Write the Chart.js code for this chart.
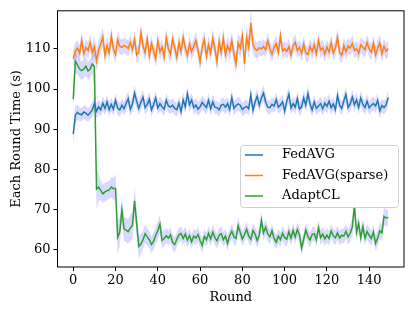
<!DOCTYPE html>
<html>
<head>
<meta charset="utf-8">
<script src="https://cdn.jsdelivr.net/npm/chart.js@4"></script>
<style>
  html, body { margin: 0; padding: 0; background: #fff; }
  #wrap { width: 415px; height: 311px; }
</style>
</head>
<body>
<div id="wrap"><canvas id="chart" width="415" height="311"></canvas></div>
<script>
// rounds on the x axis
const rounds = Array.from({ length: 150 }, (_, i) => i);

const xTicks = [0, 20, 40, 60, 80, 100, 120, 140];
const yTicks = [60, 70, 80, 90, 100, 110];

// mean round time per series
const fedavg = [
  88.8, 93.5, 94.2, 93.8, 93.6, 94.3, 94.0, 93.5, 94.1, 94.8,
  96.4, 94.5, 95.6, 94.8, 96.5, 95.2, 96.8, 94.9, 96.2, 95.0,
  97.2, 95.3, 94.8, 96.0, 95.1, 96.4, 97.6, 95.0, 96.3, 99.0,
  97.0, 95.2, 96.8, 98.0, 95.4, 96.2, 97.5, 94.8, 96.1, 97.8,
  95.3, 96.4, 95.6, 95.0, 97.2, 95.8, 95.5, 96.0, 95.2, 94.9,
  96.5, 94.4, 97.3, 95.6, 98.8, 96.1, 97.3, 95.4, 96.0, 95.0,
  95.6, 96.7, 96.0, 95.4, 97.2, 95.1, 96.8, 95.5, 95.4, 94.8,
  96.0, 96.2, 95.5, 96.4, 94.9, 97.9, 95.2, 95.9, 96.3, 96.0,
  94.9, 95.4, 95.7, 95.1, 98.6, 94.7, 96.8, 98.2, 96.0, 97.8,
  99.0, 96.8, 95.5, 95.4, 96.2, 95.8, 97.4, 95.5, 96.0, 96.8,
  94.5, 97.0, 98.7, 95.3, 96.4, 95.5, 97.6, 95.0, 95.6, 97.8,
  96.0, 98.9, 96.3, 94.8, 96.8, 95.2, 95.8, 96.4, 95.1, 96.5,
  95.7, 97.0, 95.4, 96.3, 94.9, 98.4, 96.0, 95.2, 97.1, 98.7,
  95.4, 96.3, 98.0, 96.1, 97.3, 95.5, 97.8, 96.2, 95.4, 97.0,
  95.3, 96.0, 96.4, 95.8, 97.2, 94.6, 95.9, 95.4, 96.1, 97.9
];
const fedavgSparse = [
  107.6, 109.5, 110.2, 108.9, 112.1, 108.8, 110.4, 109.6, 111.5, 109.2,
  110.6, 107.0, 109.8, 111.2, 113.0, 108.4, 110.8, 109.1, 113.2, 110.0,
  108.6, 112.3, 110.7, 110.4, 110.9, 110.6, 110.1, 111.6, 109.9, 112.4,
  108.5, 109.2, 114.0, 110.8, 109.1, 112.5, 108.3, 111.4, 109.5, 107.6,
  112.0, 109.3, 110.5, 108.0, 112.8, 110.0, 108.7, 112.4, 110.3, 107.9,
  111.6, 109.4, 112.9, 110.2, 108.4, 111.2, 109.3, 110.6, 112.1, 109.8,
  106.8, 110.5, 112.3, 108.2, 111.0, 109.0, 112.6, 110.1, 106.8, 111.8,
  109.2, 112.7, 108.6, 110.8, 109.4, 112.0, 108.8, 106.3, 111.5, 110.2,
  113.2, 106.3, 112.9, 110.4, 116.4, 111.2, 110.0, 109.6, 110.3, 110.0,
  110.6, 109.8, 112.0, 110.2, 108.7, 110.4, 111.3, 109.2, 113.2, 109.5,
  110.0, 109.4, 110.6, 108.5, 110.8, 111.7, 109.6, 110.4, 108.9, 111.2,
  109.0, 108.6, 110.6, 109.4, 111.0, 108.8, 112.1, 109.7, 110.3, 108.7,
  110.5, 109.2, 111.6, 109.0, 110.2, 112.9, 109.1, 108.4, 110.8, 109.3,
  110.7, 110.2, 111.4, 109.6, 110.1, 108.9, 111.0, 110.4, 109.8, 111.6,
  110.0, 109.2, 111.4, 108.5, 110.2, 111.5, 108.8, 110.6, 109.4, 110.1
];
const adaptcl = [
  97.5, 107.0, 106.0, 105.0, 104.6, 105.0, 105.7, 104.5, 105.0, 106.2,
  105.6, 75.1, 75.6, 74.8, 73.9, 74.4, 74.7, 74.9, 75.6, 75.2,
  75.3, 63.1, 64.4, 69.9, 65.2, 64.9, 64.5, 65.4, 66.0, 72.2,
  66.5, 60.8, 61.4, 62.5, 64.0, 63.2, 62.5, 61.3, 62.1, 63.6,
  64.8, 66.4, 62.3, 62.8, 63.5, 62.9, 63.7, 61.8, 61.3, 62.6,
  63.7, 64.0, 62.8, 63.9, 62.4, 63.5, 62.0, 63.4, 62.9, 63.8,
  62.3, 61.1, 63.3, 62.5, 64.1, 62.7, 64.4, 63.0, 62.2, 63.6,
  64.0, 62.5, 63.4, 61.6, 63.5, 64.6, 63.2, 62.8, 66.0, 64.3,
  62.7, 63.8, 65.1, 63.4, 62.6, 64.8, 63.9, 62.3, 63.6, 67.3,
  64.2, 65.6, 64.0, 63.2, 64.7, 62.8, 61.9, 63.4, 62.5, 64.1,
  63.0, 62.6, 64.5, 62.9, 64.8, 63.2, 65.0, 63.7, 60.4, 62.6,
  64.9, 63.3, 62.4, 63.8, 64.0, 62.5, 65.5, 63.0, 63.9, 62.7,
  63.6, 62.8, 64.7, 63.5, 63.0, 64.2, 62.9, 63.6, 63.4, 64.6,
  63.2, 64.1, 65.6, 71.0, 64.3, 66.5, 63.0, 65.8, 62.9, 64.5,
  63.6, 62.8, 64.4, 61.6, 62.9, 64.7, 64.2, 68.3, 67.9, 68.0
];

// half-width of the shaded band around each series
const fedavgSpread = [
  3.2, 2.3, 1.9, 1.7, 1.7, 1.7, 1.8, 1.7, 1.8, 1.9,
  2.1, 1.9, 1.8, 1.7, 1.8, 1.7, 1.8, 1.7, 1.7, 1.7,
  1.8, 1.7, 1.7, 1.7, 1.7, 1.8, 1.9, 1.7, 1.8, 2.0,
  1.8, 1.7, 1.8, 1.9, 1.7, 1.7, 1.8, 1.7, 1.7, 1.8,
  1.7, 1.7, 1.7, 1.7, 1.8, 1.7, 1.7, 1.7, 1.7, 1.7,
  1.7, 1.7, 1.8, 1.7, 2.0, 1.8, 1.8, 1.7, 1.7, 1.7,
  1.7, 1.7, 1.7, 1.7, 1.8, 1.7, 1.8, 1.7, 1.7, 1.7,
  1.7, 1.7, 1.7, 1.7, 1.7, 1.9, 1.7, 1.7, 1.7, 1.7,
  1.7, 1.7, 1.7, 1.7, 2.0, 1.8, 1.8, 1.9, 1.8, 1.9,
  2.0, 1.8, 1.7, 1.7, 1.7, 1.7, 1.8, 1.7, 1.7, 1.8,
  1.8, 1.8, 2.0, 1.7, 1.7, 1.7, 1.8, 1.7, 1.7, 1.9,
  1.7, 2.0, 1.8, 1.7, 1.8, 1.7, 1.7, 1.7, 1.7, 1.7,
  1.7, 1.8, 1.7, 1.7, 1.7, 1.9, 1.7, 1.7, 1.8, 2.0,
  1.7, 1.7, 1.9, 1.7, 1.8, 1.7, 1.9, 1.7, 1.7, 1.8,
  1.7, 1.7, 1.7, 1.7, 1.8, 1.8, 1.7, 1.7, 1.7, 1.9
];
const sparseSpread = [
  2.3, 2.1, 2.0, 2.0, 2.2, 2.0, 2.0, 2.0, 2.1, 2.0,
  2.3, 2.7, 2.5, 2.3, 2.4, 2.2, 2.1, 2.0, 2.3, 2.0,
  2.0, 2.2, 2.0, 1.9, 1.9, 1.9, 1.9, 2.0, 1.9, 2.1,
  2.1, 2.0, 2.3, 2.0, 2.0, 2.1, 2.1, 2.0, 2.0, 2.1,
  2.1, 2.0, 2.0, 2.1, 2.2, 2.0, 2.1, 2.1, 2.0, 2.1,
  2.1, 2.0, 2.2, 2.0, 2.1, 2.0, 2.0, 2.0, 2.1, 2.1,
  2.4, 2.2, 2.3, 2.2, 2.2, 2.2, 2.3, 2.3, 2.5, 2.4,
  2.3, 2.4, 2.4, 2.3, 2.3, 2.4, 2.5, 2.6, 2.5, 2.5,
  2.6, 2.8, 2.8, 2.8, 3.1, 2.5, 2.2, 2.0, 1.9, 1.9,
  1.9, 1.9, 2.0, 1.9, 2.0, 1.9, 2.0, 2.0, 2.2, 2.0,
  1.9, 1.9, 1.9, 2.0, 1.9, 2.0, 1.9, 1.9, 2.0, 2.0,
  2.0, 2.0, 1.9, 1.9, 2.0, 2.0, 2.1, 2.0, 1.9, 2.0,
  1.9, 1.9, 2.0, 2.0, 2.0, 2.2, 2.1, 2.0, 2.0, 2.0,
  1.9, 1.9, 2.0, 1.9, 1.9, 2.0, 2.0, 1.9, 1.9, 2.0,
  2.0, 2.0, 2.0, 2.1, 2.0, 2.0, 2.1, 2.0, 2.0, 2.0
];
const adaptSpread = [
  4.5, 3.0, 2.3, 2.3, 2.3, 2.3, 2.3, 2.3, 2.3, 2.3,
  5.5, 5.0, 3.5, 2.5, 2.3, 2.3, 2.3, 2.3, 2.5, 2.7,
  3.5, 4.5, 3.5, 3.3, 3.0, 3.0, 3.0, 3.3, 3.5, 3.5,
  3.5, 3.0, 2.5, 2.3, 2.3, 2.1, 2.1, 2.1, 2.1, 2.1,
  2.3, 2.3, 2.1, 2.0, 1.9, 1.9, 1.9, 1.9, 1.9, 1.8,
  1.8, 1.8, 1.8, 1.8, 1.8, 1.8, 1.8, 1.8, 1.8, 1.8,
  1.8, 1.9, 1.8, 1.8, 1.8, 1.8, 1.8, 1.8, 1.8, 1.8,
  1.8, 1.8, 1.8, 1.9, 1.8, 1.8, 1.8, 1.8, 2.0, 1.8,
  1.8, 1.8, 1.8, 1.8, 1.8, 1.9, 1.8, 1.8, 1.9, 2.1,
  1.9, 1.9, 1.8, 1.8, 1.8, 1.8, 1.8, 1.8, 1.8, 1.8,
  1.8, 1.8, 1.8, 1.8, 1.8, 1.8, 1.8, 1.9, 2.0, 1.8,
  1.8, 1.8, 1.8, 1.8, 1.8, 1.8, 1.9, 1.8, 1.8, 1.8,
  1.8, 1.8, 1.8, 1.8, 1.8, 1.8, 1.8, 1.8, 1.8, 1.9,
  1.9, 2.0, 2.3, 2.7, 2.3, 2.1, 1.9, 2.0, 1.9, 1.9,
  1.9, 1.9, 1.9, 2.0, 2.0, 2.0, 2.1, 2.2, 2.1, 2.1
];

const series = [
  { label: "FedAVG", values: fedavg, spread: fedavgSpread, color: "#1f77b4" },
  { label: "FedAVG(sparse)", values: fedavgSparse, spread: sparseSpread, color: "#ff7f0e" },
  { label: "AdaptCL", values: adaptcl, spread: adaptSpread, color: "#2ca02c" },
];

const FONT = "'DejaVu Serif', serif";
const pts = (arr) => arr.map((v, i) => ({ x: rounds[i], y: v }));

// lines first so they draw on top of the bands
const datasets = [];
series.forEach((s) => {
  datasets.push({
    label: s.label, data: pts(s.values), borderColor: s.color,
    borderWidth: 1.5, pointRadius: 0, fill: false, tension: 0,
  });
});
series.forEach((s) => {
  datasets.push({
    label: "_upper", data: pts(s.values.map((v, i) => v + s.spread[i])),
    borderWidth: 0, pointRadius: 0, fill: "+1",
    backgroundColor: "rgba(0, 0, 255, 0.15)", borderColor: "rgba(0,0,0,0)",
  });
  datasets.push({
    label: "_lower", data: pts(s.values.map((v, i) => v - s.spread[i])),
    borderWidth: 0, pointRadius: 0, fill: false, borderColor: "rgba(0,0,0,0)",
  });
});

// axes frame (all four spines)
const framePlugin = {
  id: "frame",
  afterDraw(chart) {
    const { ctx, chartArea: a } = chart;
    ctx.save();
    ctx.strokeStyle = "#000";
    ctx.lineWidth = 1;
    ctx.strokeRect(a.left, a.top, a.right - a.left, a.bottom - a.top);
    ctx.restore();
  },
};

// matplotlib-style legend box in the lower right
const legendPlugin = {
  id: "mplLegend",
  afterDraw(chart) {
    const { ctx } = chart;
    const x = 240, y = 145, w = 158, h = 62;
    ctx.save();
    ctx.fillStyle = "rgba(255,255,255,0.85)";
    ctx.strokeStyle = "#d0d0d0";
    ctx.lineWidth = 1;
    ctx.beginPath();
    ctx.roundRect(x + 0.5, y + 0.5, w, h, 3);
    ctx.fill();
    ctx.stroke();
    ctx.font = "13px " + FONT;
    ctx.textBaseline = "middle";
    series.forEach((s, i) => {
      const ry = y + 10 + i * 20.5;
      ctx.strokeStyle = s.color;
      ctx.lineWidth = 1.5;
      ctx.beginPath();
      ctx.moveTo(x + 5, ry);
      ctx.lineTo(x + 23, ry);
      ctx.stroke();
      ctx.fillStyle = "#000";
      ctx.fillText(s.label, x + 42, ry);
    });
    ctx.restore();
  },
};

new Chart(document.getElementById("chart").getContext("2d"), {
  type: "line",
  data: { datasets },
  plugins: [framePlugin, legendPlugin],
  options: {
    responsive: false,
    animation: false,
    layout: { padding: { top: 9, right: 11, left: 0, bottom: 0 } },
    plugins: { legend: { display: false }, tooltip: { enabled: false } },
    scales: {
      x: {
        type: "linear", min: -7.45, max: 156.45,
        afterBuildTicks: (sc) => { sc.ticks = xTicks.map((v) => ({ value: v })); },
        afterFit: (sc) => { sc.height = 44; },
        grid: { drawOnChartArea: false, drawTicks: true, tickLength: 4, color: "#000" },
        border: { display: false },
        ticks: { color: "#000", padding: 2, maxRotation: 0, font: { family: FONT, size: 13 } },
        title: { display: true, text: "Round", color: "#000", padding: { top: 0, bottom: 6 }, font: { family: FONT, size: 13 } },
      },
      y: {
        min: 55.7, max: 119.5,
        afterBuildTicks: (sc) => { sc.ticks = yTicks.map((v) => ({ value: v })); },
        afterFit: (sc) => { sc.width = 57.5; },
        grid: { drawOnChartArea: false, drawTicks: true, tickLength: 4, color: "#000" },
        border: { display: false },
        ticks: { color: "#000", padding: 3, font: { family: FONT, size: 13 } },
        title: { display: true, text: "Each Round Time (s)", color: "#000", padding: { top: 9, bottom: 0 }, font: { family: FONT, size: 13 } },
      },
    },
  },
});
</script>
</body>
</html>
